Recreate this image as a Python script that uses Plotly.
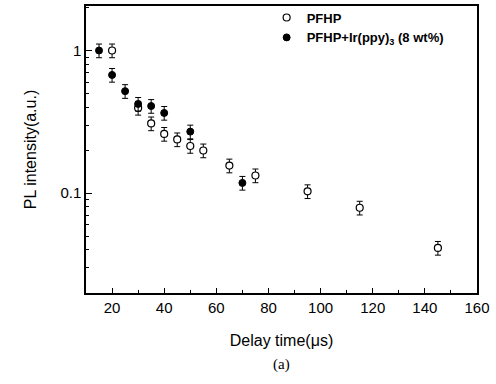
import plotly.graph_objects as go

# PFHP (open circles)
t_pfhp = [20, 30, 35, 40, 45, 50, 55, 65, 75, 95, 115, 145]
i_pfhp = [1.0, 0.396, 0.308, 0.26, 0.238, 0.214, 0.199, 0.156, 0.133, 0.103, 0.079, 0.0413]
# PFHP+Ir(ppy)3 (filled circles)
t_ir = [15, 20, 25, 30, 35, 40, 50, 70]
i_ir = [1.0, 0.674, 0.519, 0.422, 0.408, 0.365, 0.27, 0.118]
rel_err = 0.11

fig = go.Figure()
fig.add_trace(go.Scatter(
    x=t_pfhp, y=i_pfhp, mode="markers", name="PFHP",
    marker=dict(symbol="circle", size=7, color="white", line=dict(color="black", width=1.2)),
    error_y=dict(type="percent", value=rel_err * 100, color="black", thickness=1, width=3),
))
fig.add_trace(go.Scatter(
    x=t_ir, y=i_ir, mode="markers", name="PFHP+Ir(ppy)<sub>3</sub> (8 wt%)",
    marker=dict(symbol="circle", size=7, color="black", line=dict(color="black", width=1)),
    error_y=dict(type="percent", value=rel_err * 100, color="black", thickness=1, width=3),
))

font_main = "Liberation Sans, Arial, Helvetica, sans-serif"
fig.update_layout(
    width=496, height=384,
    margin=dict(l=86, r=19, t=3, b=91),
    paper_bgcolor="white", plot_bgcolor="white",
    font=dict(family=font_main, size=15, color="black"),
    showlegend=True,
    legend=dict(
        x=0.462, y=1.012, xanchor="left", yanchor="top",
        bgcolor="rgba(0,0,0,0)", borderwidth=0,
        font=dict(family=font_main, size=13, color="black", weight="bold"),
        itemwidth=30, tracegroupgap=0,
    ),
    xaxis=dict(
        range=[10, 160], tickvals=[20, 40, 60, 80, 100, 120, 140, 160],
        ticks="inside", ticklen=5, tickwidth=1, tickcolor="black",
        showline=True, linecolor="black", linewidth=1.5, mirror=True,
        showgrid=False, zeroline=False,
        minor=dict(ticks="inside", ticklen=3, dtick=10, tick0=10, tickcolor="black", showgrid=False),
        title=dict(text="Delay time(μs)", font=dict(size=16), standoff=20),
        tickfont=dict(size=15),
    ),
    yaxis=dict(
        type="log", range=[-1.70, 0.312],
        tickvals=[0.1, 1], ticktext=["0.1", "1"],
        ticks="inside", ticklen=6, tickwidth=1, tickcolor="black",
        showline=True, linecolor="black", linewidth=1.5, mirror=True,
        showgrid=False, zeroline=False,
        minor=dict(ticks="inside", ticklen=3, tickcolor="black", showgrid=False,
                   tickvals=[0.02, 0.03, 0.04, 0.05, 0.06, 0.07, 0.08, 0.09,
                             0.2, 0.3, 0.4, 0.5, 0.6, 0.7, 0.8, 0.9, 2]),
        title=dict(text="PL intensity(a.u.)", font=dict(size=16), standoff=20),
        tickfont=dict(size=15),
    ),
    annotations=[dict(
        text="(a)", x=0.5, y=-0.25, xref="paper", yref="paper",
        xanchor="center", yanchor="middle", showarrow=False,
        font=dict(family="Liberation Serif, Times New Roman, serif", size=15, color="black"),
    )],
)

fig.write_html("out.html")
